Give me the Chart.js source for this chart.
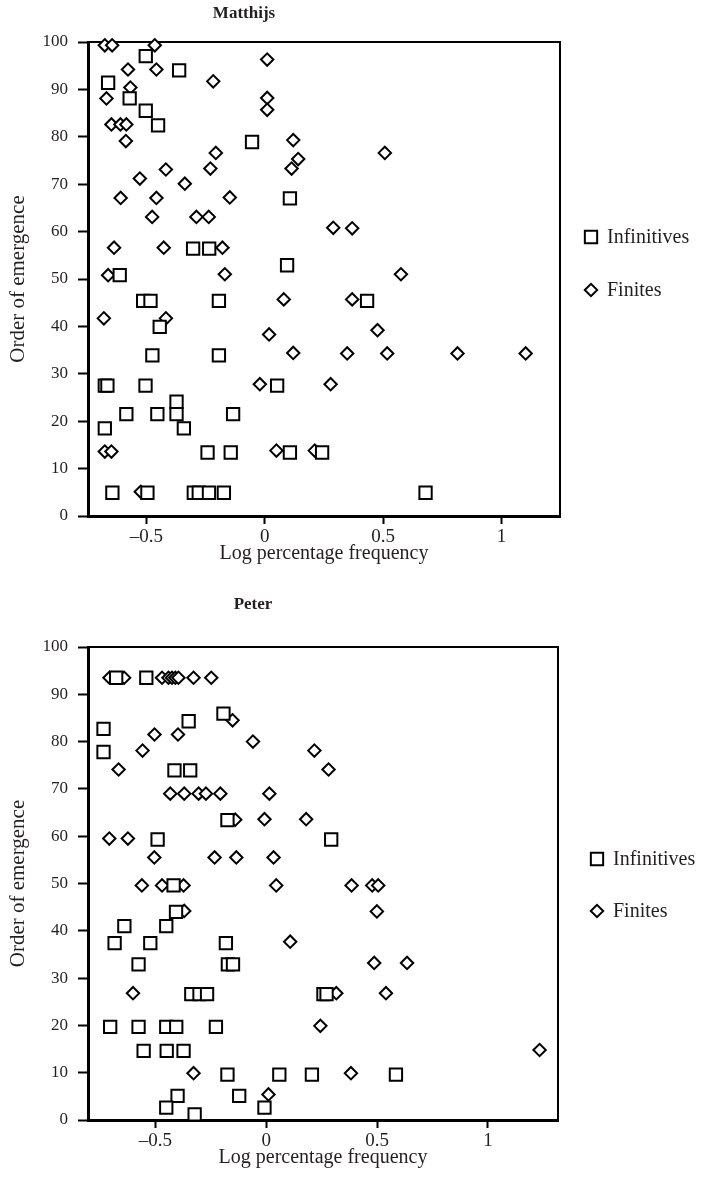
<!DOCTYPE html>
<html>
<head>
<meta charset="utf-8">
<title>Order of emergence by log percentage frequency</title>
<script src="https://cdn.jsdelivr.net/npm/chart.js@4.4.1/dist/chart.umd.min.js"></script>
<style>
  body { margin: 0; background: #fff; }
  canvas { display: block; }
</style>
</head>
<body>
<canvas id="matthijsChart" width="707" height="590"></canvas>
<canvas id="peterChart" width="707" height="595"></canvas>
<script>
// ---- data ----
const seriesNames = ['Infinitives', 'Finites'];
const xTickValues = [-0.5, 0, 0.5, 1];
const xTickLabels = ['\u20130.5', '0', '0.5', '1'];
const yTickStep = 10;

// Matthijs
const matthijsInfX = [-0.503, -0.362, -0.662, -0.571, -0.503, -0.451, -0.054, 0.106, -0.303, -0.235,
  0.094, -0.613, -0.514, -0.483, -0.194, 0.432, -0.444, -0.475, -0.194, -0.676,
  -0.665, -0.504, 0.052, -0.373, -0.585, -0.454, -0.373, -0.134, -0.676, -0.342,
  -0.242, -0.144, 0.106, 0.242, -0.644, -0.496, -0.300, -0.279, -0.236, -0.173, 0.679];
const matthijsInfY = [97.0, 94.0, 91.4, 88.1, 85.5, 82.4, 78.9, 67.0, 56.4, 56.4,
  52.9, 50.8, 45.4, 45.4, 45.4, 45.4, 39.9, 33.9, 33.9, 27.5,
  27.5, 27.5, 27.5, 24.1, 21.5, 21.5, 21.5, 21.5, 18.5, 18.5,
  13.4, 13.4, 13.4, 13.4, 4.9, 4.9, 4.9, 4.9, 4.9, 4.9, 4.9];
const matthijsFinX = [-0.676, -0.645, -0.465, 0.010, -0.578, -0.458, -0.218, -0.568, -0.669, 0.010,
  0.010, -0.648, -0.610, -0.585, -0.587, 0.120, -0.207, 0.507, 0.141, 0.113,
  -0.418, -0.230, -0.528, -0.338, -0.609, -0.458, -0.148, -0.476, -0.289, -0.237,
  0.289, 0.369, -0.637, -0.427, -0.179, -0.169, -0.662, 0.575, 0.080, 0.369,
  -0.680, -0.418, 0.476, 0.018, 0.120, 0.348, 0.517, 0.814, 1.102, -0.021,
  0.278, -0.676, -0.648, 0.049, 0.211, -0.524];
const matthijsFinY = [99.3, 99.3, 99.3, 96.3, 94.2, 94.2, 91.7, 90.4, 88.1, 88.2,
  85.7, 82.6, 82.6, 82.6, 79.1, 79.3, 76.6, 76.6, 75.3, 73.3,
  73.1, 73.3, 71.2, 70.1, 67.1, 67.1, 67.2, 63.1, 63.1, 63.1,
  60.8, 60.7, 56.6, 56.6, 56.6, 51.0, 50.8, 51.0, 45.7, 45.7,
  41.7, 41.7, 39.2, 38.3, 34.4, 34.3, 34.3, 34.3, 34.3, 27.8,
  27.8, 13.6, 13.6, 13.8, 13.8, 5.1];

// Peter
const peterInfX = [-0.677, -0.541, -0.193, -0.350, -0.734, -0.734, -0.414, -0.343, -0.175, -0.490,
  0.293, -0.418, -0.407, -0.640, -0.451, -0.684, -0.523, -0.182, -0.576, -0.173,
  -0.150, -0.338, -0.301, -0.267, 0.258, 0.272, -0.704, -0.576, -0.451, -0.406,
  -0.227, -0.553, -0.449, -0.373, -0.175, 0.059, 0.206, 0.585, -0.400, -0.122,
  -0.451, -0.323, -0.008];
const peterInfY = [93.5, 93.5, 85.9, 84.3, 82.7, 77.8, 73.9, 73.9, 63.4, 59.3,
  59.3, 49.6, 44.0, 41.0, 41.0, 37.4, 37.4, 37.4, 32.9, 32.9,
  32.9, 26.6, 26.6, 26.6, 26.6, 26.6, 19.7, 19.7, 19.7, 19.7,
  19.7, 14.6, 14.6, 14.6, 9.6, 9.6, 9.6, 9.6, 5.1, 5.1,
  2.6, 1.2, 2.6];
const peterFinX = [-0.707, -0.641, -0.470, -0.441, -0.425, -0.410, -0.396, -0.328, -0.248, -0.152,
  -0.504, -0.398, -0.060, -0.558, 0.217, -0.666, 0.281, -0.433, -0.370, -0.305,
  -0.272, -0.207, 0.014, -0.140, -0.008, 0.180, -0.708, -0.624, -0.505, -0.233,
  -0.135, 0.033, -0.561, -0.470, -0.373, 0.045, 0.385, 0.478, 0.505, -0.370,
  0.499, 0.108, 0.487, 0.635, -0.601, 0.316, 0.540, 0.244, 1.233, -0.328,
  0.382, 0.010];
const peterFinY = [93.5, 93.5, 93.5, 93.5, 93.5, 93.5, 93.5, 93.5, 93.5, 84.5,
  81.5, 81.5, 80.0, 78.1, 78.1, 74.1, 74.1, 69.0, 69.0, 69.0,
  69.0, 69.0, 69.0, 63.5, 63.6, 63.6, 59.5, 59.5, 55.5, 55.5,
  55.5, 55.5, 49.6, 49.6, 49.6, 49.6, 49.6, 49.6, 49.6, 44.2,
  44.1, 37.7, 33.2, 33.2, 26.8, 26.8, 26.8, 19.9, 14.8, 9.9,
  9.9, 5.4];

const TEXT = '#231f20';
const SERIF = '"Liberation Serif", "Times New Roman", serif';

// Top and right edges of the box (left/bottom are the axis borders)
const boxFrame = {
  id: 'boxFrame',
  beforeDatasetsDraw(chart) {
    const { ctx, chartArea: a } = chart;
    ctx.save();
    ctx.strokeStyle = '#000';
    ctx.lineWidth = 2;
    ctx.beginPath();
    ctx.moveTo(a.left, a.top);
    ctx.lineTo(a.right, a.top);
    ctx.lineTo(a.right, a.bottom);
    ctx.stroke();
    ctx.restore();
  }
};

// Panel title, sits left of the plot centre in the original
const panelTitle = {
  id: 'panelTitle',
  afterDraw(chart, args, opts) {
    const { ctx } = chart;
    ctx.save();
    ctx.font = 'bold 17px ' + SERIF;
    ctx.fillStyle = TEXT;
    ctx.textAlign = 'center';
    ctx.textBaseline = 'middle';
    ctx.fillText(opts.text, opts.x, opts.y);
    ctx.restore();
  }
};

// Legend to the right of the box, markers drawn like the points
const sideLegend = {
  id: 'sideLegend',
  afterDraw(chart, args, opts) {
    const { ctx } = chart;
    ctx.save();
    chart.data.datasets.forEach((ds, i) => {
      const y = opts.y + i * opts.gap;
      const r = ds.pointRadius;
      const x = opts.markerX;
      ctx.beginPath();
      if (ds.pointStyle === 'rect') {
        const h = r * Math.SQRT1_2;
        ctx.rect(x - h, y - h, 2 * h, 2 * h);
      } else {
        ctx.moveTo(x - r, y);
        ctx.lineTo(x, y - r);
        ctx.lineTo(x + r, y);
        ctx.lineTo(x, y + r);
        ctx.closePath();
      }
      ctx.fillStyle = '#fff';
      ctx.fill();
      ctx.lineWidth = ds.borderWidth;
      ctx.strokeStyle = '#000';
      ctx.stroke();

      ctx.font = '20px ' + SERIF;
      ctx.fillStyle = TEXT;
      ctx.textAlign = 'left';
      ctx.textBaseline = 'middle';
      ctx.fillText(ds.label, opts.textX, y + 1);
    });
    ctx.restore();
  }
};

function toPoints(xs, ys) {
  return xs.map((x, i) => ({ x: x, y: ys[i] }));
}

function buildPanel(canvasId, cfg) {
  const ctx = document.getElementById(canvasId);
  return new Chart(ctx, {
    type: 'scatter',
    data: {
      datasets: [
        {
          label: seriesNames[0],
          data: toPoints(cfg.infX, cfg.infY),
          pointStyle: 'rect',
          pointRadius: 8.7,
          pointHoverRadius: 8.7,
          borderWidth: 2,
          borderColor: '#000',
          backgroundColor: '#fff',
          clip: false
        },
        {
          label: seriesNames[1],
          data: toPoints(cfg.finX, cfg.finY),
          pointStyle: 'rectRot',
          pointRadius: 6.2,
          pointHoverRadius: 6.2,
          borderWidth: 2,
          borderColor: '#000',
          backgroundColor: '#fff',
          clip: false
        }
      ]
    },
    options: {
      responsive: false,
      animation: false,
      devicePixelRatio: 1,
      events: [],
      layout: {
        padding: { top: cfg.padTop, right: cfg.padRight, bottom: cfg.padBottom, left: 0 }
      },
      plugins: {
        legend: { display: false },
        tooltip: { enabled: false },
        title: { display: false },
        panelTitle: cfg.title,
        sideLegend: cfg.legend
      },
      scales: {
        x: {
          type: 'linear',
          position: 'bottom',
          min: cfg.xMin,
          max: cfg.xMax,
          afterBuildTicks(scale) {
            scale.ticks = xTickValues.map(v => ({ value: v }));
          },
          afterFit(scale) {
            scale.height = 54;
          },
          ticks: {
            autoSkip: false,
            maxRotation: 0,
            padding: 2,
            color: TEXT,
            font: { family: SERIF, size: 19 },
            callback: (value, index) => xTickLabels[index]
          },
          grid: {
            drawOnChartArea: false,
            drawTicks: true,
            tickLength: 8,
            tickWidth: 2,
            tickColor: '#000'
          },
          border: { display: true, width: 3, color: '#000' },
          title: {
            display: true,
            text: 'Log percentage frequency',
            color: TEXT,
            font: { family: SERIF, size: 20 },
            padding: { top: 0, bottom: 4 }
          }
        },
        y: {
          type: 'linear',
          min: 0,
          max: 100,
          afterFit(scale) {
            scale.width = 88;
          },
          ticks: {
            stepSize: yTickStep,
            padding: 10,
            color: TEXT,
            font: { family: SERIF, size: 17 }
          },
          grid: {
            drawOnChartArea: false,
            drawTicks: true,
            tickLength: 10,
            tickWidth: 2,
            tickColor: '#000'
          },
          border: { display: true, width: 3, color: '#000' },
          title: {
            display: true,
            text: 'Order of emergence',
            color: TEXT,
            font: { family: SERIF, size: 21 },
            padding: { top: 6, bottom: 0 }
          }
        }
      }
    },
    plugins: [boxFrame, panelTitle, sideLegend]
  });
}

buildPanel('matthijsChart', {
  infX: matthijsInfX, infY: matthijsInfY,
  finX: matthijsFinX, finY: matthijsFinY,
  xMin: -0.747, xMax: 1.247,
  padTop: 42, padRight: 147, padBottom: 20,
  title: { text: 'Matthijs', x: 244, y: 14 },
  legend: { markerX: 591, textX: 607, y: 237, gap: 53 }
});

buildPanel('peterChart', {
  infX: peterInfX, infY: peterInfY,
  finX: peterFinX, finY: peterFinY,
  xMin: -0.804, xMax: 1.316,
  padTop: 57, padRight: 149, padBottom: 11,
  title: { text: 'Peter', x: 253, y: 15 },
  legend: { markerX: 597, textX: 613, y: 269, gap: 52 }
});
</script>
</body>
</html>
